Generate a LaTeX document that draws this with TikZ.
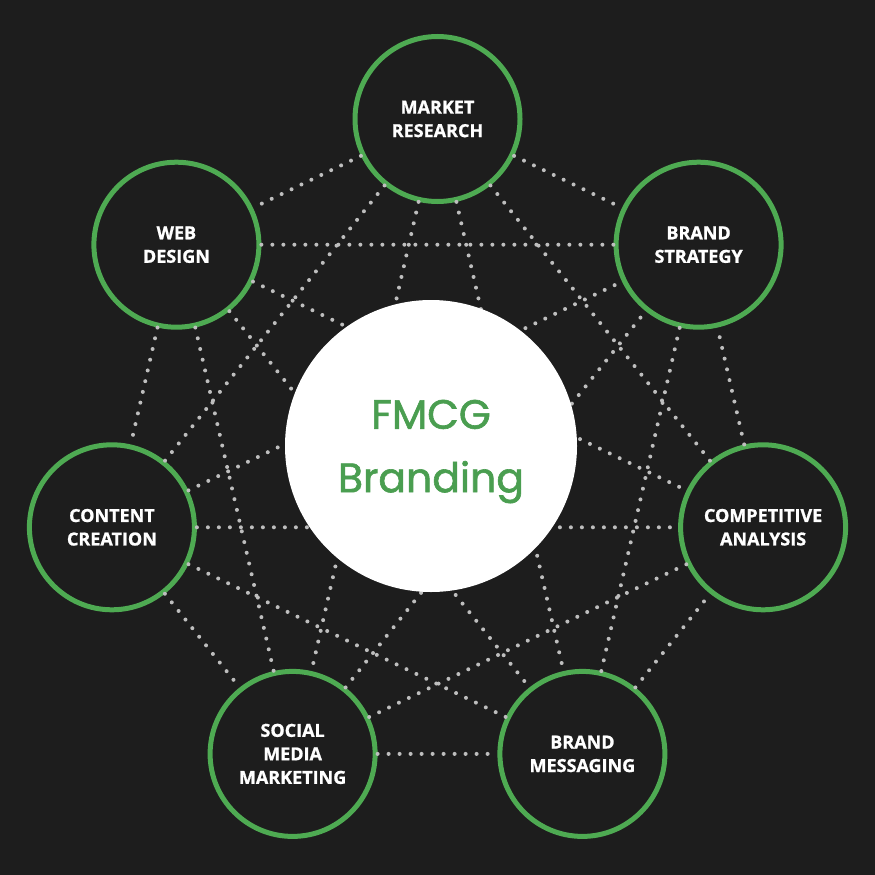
\documentclass[tikz,border=0pt]{standalone}
\usepackage{fontspec}
\setmainfont{Open Sans}[BoldFeatures={FakeBold=1}]
\newfontfamily\hubfont{Poppins}[FakeBold=1.5]
\usetikzlibrary{calc}

\definecolor{bg}{RGB}{29,29,29}
\definecolor{ring}{RGB}{78,170,82}
\definecolor{hubtxt}{RGB}{74,158,80}
\definecolor{dotc}{RGB}{190,190,190}

\begin{document}
\begin{tikzpicture}[x=1pt,y=-1pt,
  topic/.style={circle,draw=ring,line width=5pt,fill=bg,minimum size=165pt,inner sep=0pt,
    text=white,align=center,font=\fontsize{18}{23.5}\selectfont\bfseries},
  hub/.style={circle,fill=white,minimum size=292pt,inner sep=0pt,text depth=0pt,
    text=hubtxt,align=center,font=\hubfont\fontsize{41}{63.4}\selectfont},
  link/.style={draw=dotc,line width=4pt,line cap=round,dash pattern=on 0pt off 11pt}]
  \fill[bg] (0,0) rectangle (875,875);
  \node[topic] (mr) at (437.5,119) {MARKET\\RESEARCH};
  \node[topic] (wd) at (176.4,244.7) {WEB\\DESIGN};
  \node[topic] (cc) at (111.9,527.3) {CONTENT\\CREATION};
  \node[topic] (sm) at (292.6,753.9) {SOCIAL\\MEDIA\\MARKETING};
  \node[topic] (bm) at (582.4,753.9) {BRAND\\MESSAGING};
  \node[topic] (ca) at (763.1,527.3) {COMPETITIVE\\ANALYSIS};
  \node[topic] (bs) at (698.6,244.7) {BRAND\\STRATEGY};
  % every topic linked to every other one
  \draw[link] (mr)--(wd); \draw[link] (mr)--(bs); \draw[link] (mr)--(cc);
  \draw[link] (mr)--(ca); \draw[link] (mr)--(sm); \draw[link] (mr)--(bm);
  \draw[link] (wd)--(bs); \draw[link] (wd)--(cc); \draw[link] (wd)--(sm);
  \draw[link] (wd)--(bm); \draw[link] (wd)--(ca);
  \draw[link] (cc)--(sm); \draw[link] (cc)--(bm); \draw[link] (cc)--(ca); \draw[link] (cc)--(bs);
  \draw[link] (sm)--(bm); \draw[link] (sm)--(ca); \draw[link] (sm)--(bs);
  \draw[link] (bm)--(ca); \draw[link] (bm)--(bs); \draw[link] (ca)--(bs);
  \node[hub] (c) at (431,446) {FMCG\\Branding};
\end{tikzpicture}
\end{document}
